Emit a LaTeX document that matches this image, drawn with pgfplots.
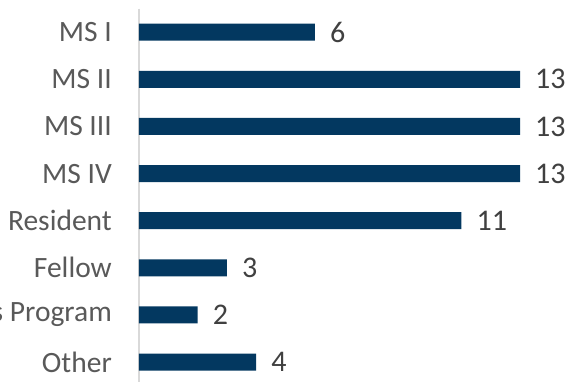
\documentclass[border=0pt]{standalone}
\usepackage{pgfplots}
\pgfplotsset{compat=1.18}
\usepackage{fontspec}
\setmainfont{Carlito}
\definecolor{barblue}{RGB}{3,56,96}
\definecolor{ticktxt}{RGB}{89,89,89}
\definecolor{valtxt}{RGB}{64,64,64}
\definecolor{axgray}{RGB}{217,217,217}
\begin{document}
\begin{tikzpicture}
\begin{axis}[
  name=ax,
  at={(0,0)}, anchor=south west,
  scale only axis,
  width=381pt, height=377pt,
  xmin=0, xmax=13,
  ymin=-0.5, ymax=7.5,
  y dir=reverse,
  xbar, bar width=17pt,
  axis x line=none,
  axis y line*=left,
  y axis line style={axgray, line width=1.5pt, -},
  ytick={0,...,7},
  yticklabels={MS I, MS II, MS III, MS IV, Resident, Fellow, Masters Program, Other},
  major tick length=0pt,
  yticklabel style={font=\fontsize{29.5}{35}\selectfont, text=ticktxt, inner sep=0pt, xshift=-27pt},
  /pgf/number format/assume math mode=true,
  nodes near coords,
  nodes near coords style={font=\fontsize{30}{35}\selectfont, text=valtxt, anchor=west, inner sep=0pt, xshift=15pt},
  clip=false,
]
\addplot[fill=barblue, draw=none] coordinates {
  (6,0) (13,1) (13,2) (13,3) (11,4) (3,5) (2,6) (4,7)
};
\end{axis}
\pgfresetboundingbox
\path[use as bounding box] (-139pt,4.6pt) rectangle (431pt,385.6pt);
\end{tikzpicture}
\end{document}
